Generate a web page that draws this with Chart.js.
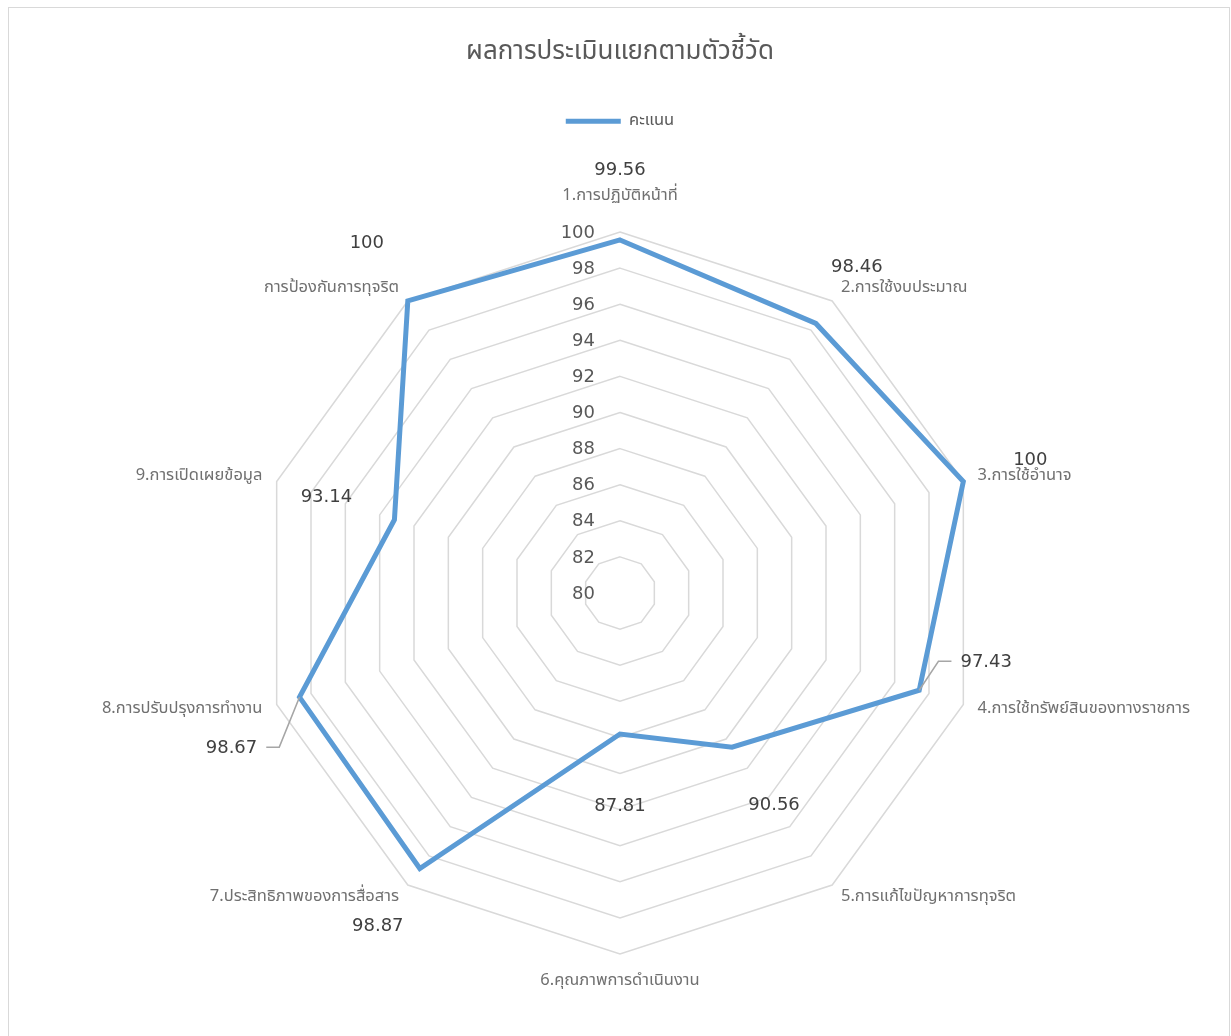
<!DOCTYPE html>
<html>
<head>
<meta charset="utf-8">
<script src="https://cdn.jsdelivr.net/npm/chart.js@4/dist/chart.umd.min.js"></script>
<style>
	html, body { margin: 0; padding: 0; background: #fff; overflow: hidden; }
	#frame { position: absolute; left: 8px; top: 7px; width: 1220px; height: 1100px; border: 1px solid #d9d9d9; }
	canvas { display: block; }
</style>
</head>
<body>
<div id="frame"><canvas id="radar" width="1220" height="1039"></canvas></div>
<script>
// ตัวชี้วัด (หมวดหมู่) เรียงตามเข็มนาฬิกาจากด้านบน
const categories = [
	"1.การปฏิบัติหน้าที่",
	"2.การใช้งบประมาณ",
	"3.การใช้อำนาจ",
	"4.การใช้ทรัพย์สินของทางราชการ",
	"5.การแก้ไขปัญหาการทุจริต",
	"6.คุณภาพการดำเนินงาน",
	"7.ประสิทธิภาพของการสื่อสาร",
	"8.การปรับปรุงการทำงาน",
	"9.การเปิดเผยข้อมูล",
	"การป้องกันการทุจริต",
];
const scores = [99.56, 98.46, 100, 97.43, 90.56, 87.81, 98.87, 98.67, 93.14, 100];
const seriesName = "คะแนน";
const chartTitle = "ผลการประเมินแยกตามตัวชี้วัด";
const tickMin = 80;
const tickMax = 100;
const tickStep = 2;

// ตำแหน่งป้ายค่า (เลื่อนจากจุดข้อมูล) และเส้นนำ
const valueLabelShift = [
	[0, -70], [41, -56], [67, -21], [67, -28], [42, 58],
	[0, 72], [-42, 58], [-68, 51], [-68, -22], [-41, -58],
];
const hasLeader = [false, false, false, true, false, false, false, true, false, false];

const thaiFont = "'Noto Sans Thai', 'Noto Sans', 'DejaVu Sans', sans-serif";
const numFont = "'DejaVu Sans', sans-serif";

const labelPlugin = {
	id: "excelLabels",
	afterDatasetsDraw(chart) {
		const ctx = chart.ctx;
		const scale = chart.scales.r;
		const meta = chart.getDatasetMeta(0);
		ctx.save();

		// ป้ายแกน 80-100
		ctx.font = "18px " + numFont;
		ctx.fillStyle = "#595959";
		ctx.textAlign = "right";
		ctx.textBaseline = "middle";
		scale.ticks.forEach((t) => {
			const d = scale.getDistanceFromCenterForValue(t.value);
			ctx.fillText(t.label, scale.xCenter - 25, scale.yCenter - d + 1);
		});

		// ชื่อตัวชี้วัด
		ctx.font = "16.5px " + thaiFont;
		ctx.fillStyle = "#707070";
		categories.forEach((c, i) => {
			const ang = scale.getIndexAngle(i);
			const s = Math.sin(ang);
			const co = Math.cos(ang);
			let pad = 15;
			if (Math.abs(s) < 0.01) pad = co > 0 ? 35 : 28;
			const p = scale.getPointPosition(i, scale.drawingArea + pad);
			ctx.textAlign = Math.abs(s) < 0.01 ? "center" : s > 0 ? "left" : "right";
			ctx.fillText(c, p.x, p.y);
		});

		// ค่าคะแนน
		ctx.font = "18px " + numFont;
		ctx.textAlign = "center";
		scores.forEach((v, i) => {
			const pt = meta.data[i];
			const txt = String(v);
			const cx = pt.x + valueLabelShift[i][0];
			const cy = pt.y + valueLabelShift[i][1];
			if (hasLeader[i]) {
				const w = ctx.measureText(txt).width;
				const dir = cx > pt.x ? 1 : -1;
				const edge = cx - dir * w / 2;
				ctx.strokeStyle = "#a6a6a6";
				ctx.lineWidth = 1.5;
				ctx.beginPath();
				ctx.moveTo(pt.x, pt.y);
				ctx.lineTo(edge - dir * 22, cy - 1);
				ctx.lineTo(edge - dir * 9, cy - 1);
				ctx.stroke();
			}
			ctx.fillStyle = "#404040";
			ctx.fillText(txt, cx, cy);
		});
		ctx.restore();
	},
};

new Chart(document.getElementById("radar"), {
	type: "radar",
	data: {
		labels: categories,
		datasets: [
			{
				label: seriesName,
				data: scores,
				borderColor: "#5b9bd5",
				backgroundColor: "#5b9bd5",
				borderWidth: 5,
				borderCapStyle: "round",
				fill: false,
				pointRadius: 0,
				pointHoverRadius: 0,
				tension: 0,
			},
		],
	},
	options: {
		responsive: false,
		animation: false,
		layout: { padding: { left: 250, right: 248, top: 0, bottom: 0 } },
		scales: {
			r: {
				min: tickMin,
				max: tickMax,
				ticks: { stepSize: tickStep, display: false },
				pointLabels: { display: false },
				angleLines: { display: false },
				grid: { color: "#d9d9d9", lineWidth: 1.5 },
			},
		},
		plugins: {
			title: {
				display: true,
				text: chartTitle,
				color: "#595959",
				font: { family: thaiFont, size: 26, weight: "normal", lineHeight: 1.2 },
				padding: { top: 30, bottom: 33.8 },
			},
			legend: {
				display: true,
				position: "top",
				labels: {
					usePointStyle: true,
					pointStyle: "line",
					pointStyleWidth: 55,
					color: "#595959",
					font: { family: thaiFont, size: 16.5 },
					padding: 10,
				},
			},
			tooltip: { enabled: false },
		},
	},
	plugins: [labelPlugin],
});
</script>
</body>
</html>
